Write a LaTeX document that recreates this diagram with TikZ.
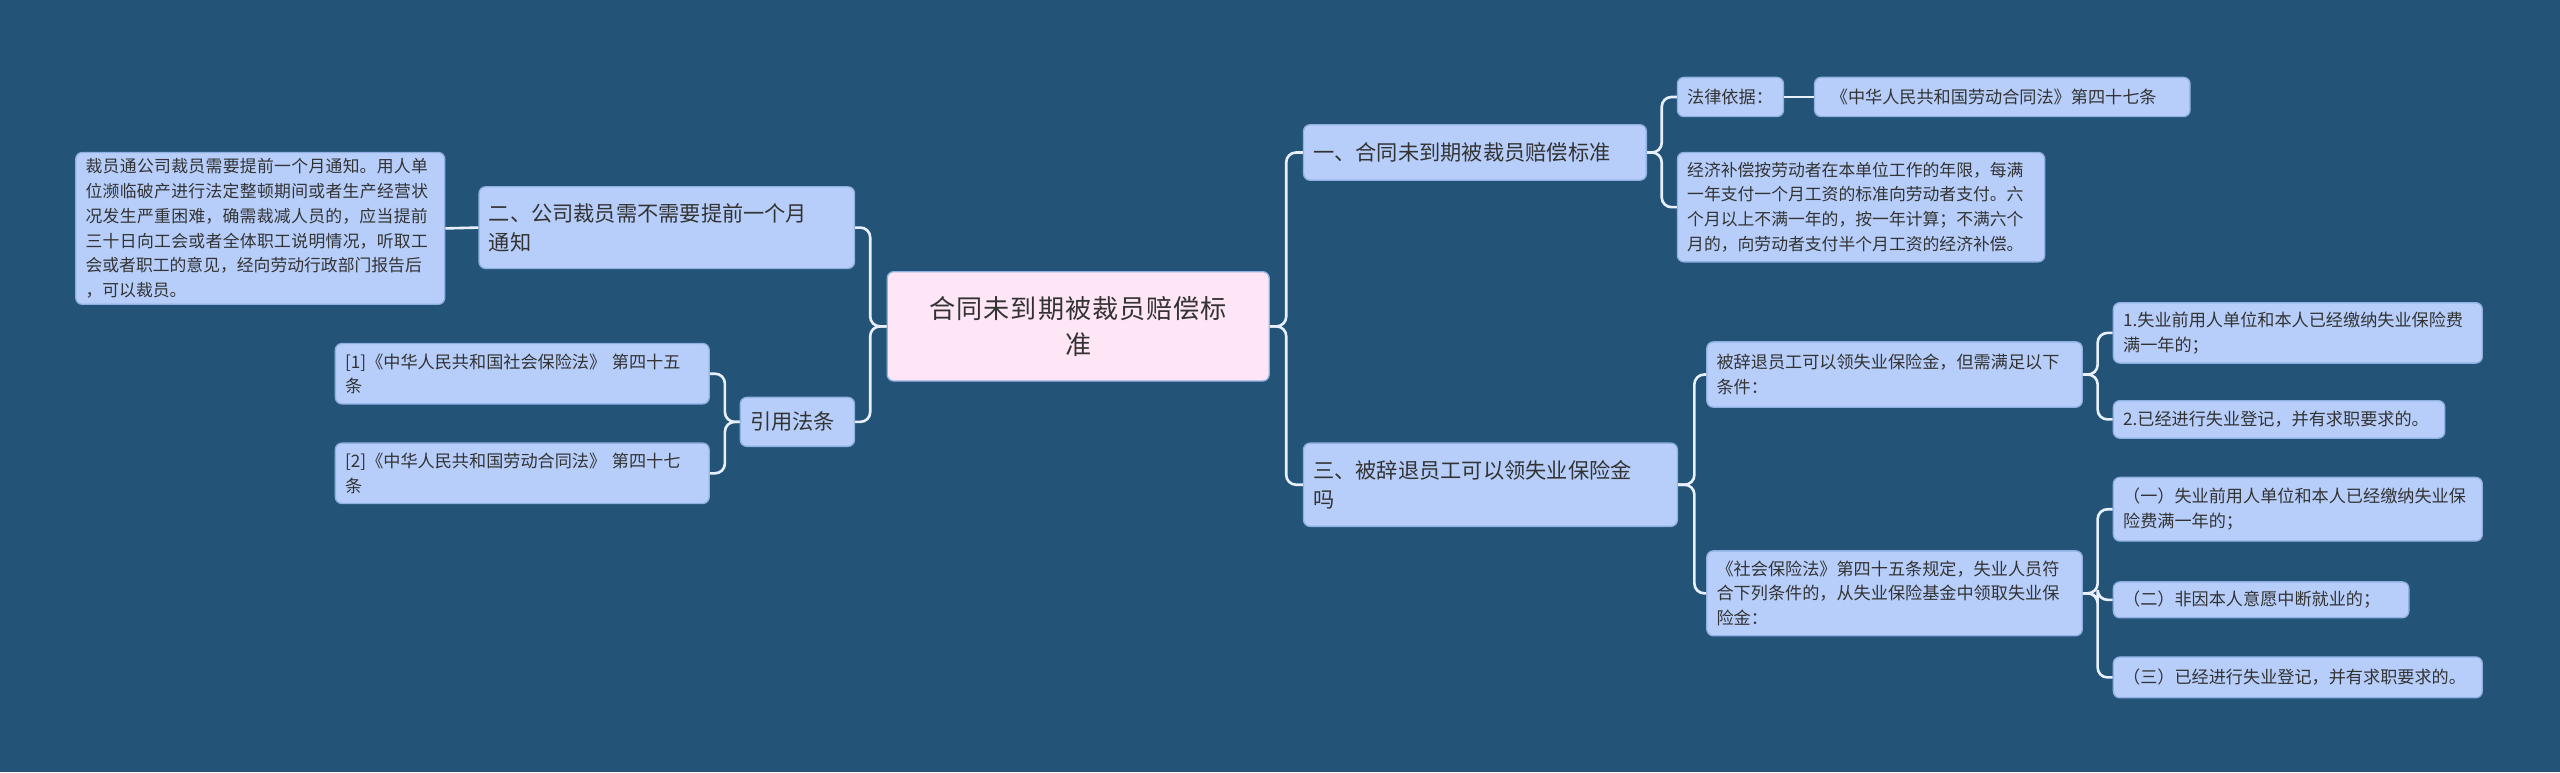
\documentclass[tikz,border=0pt]{standalone}
\usepackage{fontspec}
\setmainfont{Noto Sans CJK SC}
\XeTeXlinebreaklocale "zh"
\XeTeXlinebreakskip=0pt plus 1pt
\definecolor{bg}{HTML}{235478}
\definecolor{bx}{HTML}{B7CEFA}
\definecolor{bxl}{HTML}{8FB0E0}
\definecolor{ctr}{HTML}{FFE6F7}
\definecolor{ln}{HTML}{E8F0FF}
\tikzset{
 box/.style={draw=bxl,line width=0.8pt,fill=bx,rounded corners=4pt,anchor=north west,align=left,inner xsep=6pt,inner ysep=3pt,text=black!80},
 conn/.style={draw=ln,line width=1.6pt,rounded corners=6pt},
}
\newcommand{\bx}[8]{\node[box,#1,text width=#4pt-12pt,minimum height=#5pt,font=\fontsize{#6}{#7}\selectfont] (#2) at (#3) {#8};}
\begin{document}
\begin{tikzpicture}[x=1pt,y=-1pt]
\fill[bg] (0,0) rectangle (1568,473);
\useasboundingbox (0,0) rectangle (1568,473);
\node[box,fill=ctr,draw=bxl,text width=222pt,minimum height=67pt,align=center,font=\fontsize{16}{22}\selectfont] (c) at (543,166) {合同未到期被裁员赔偿标\\准};
\bx{}{n2}{293,114}{230}{50}{13}{18}{二、公司裁员需不需要提前一个月\\通知}
\bx{}{n2d}{46,93}{226}{93}{10.3}{15.2}{裁员通公司裁员需要提前一个月通知。用人单位濒临破产进行法定整顿期间或者生产经营状况发生严重困难，确需裁减人员的，应当提前三十日向工会或者全体职工说明情况，听取工会或者职工的意见，经向劳动行政部门报告后\\，可以裁员。}
\bx{}{ref}{453,243}{70}{30}{13}{18}{引用法条}
\bx{}{ref1}{205,210}{229}{37}{10.5}{15}{[1]《中华人民共和国社会保险法》 第四十五\\条}
\bx{}{ref2}{205,271}{229}{37}{10.5}{15}{[2]《中华人民共和国劳动合同法》 第四十七\\条}
\bx{}{r1}{798,76}{210}{34}{13}{18}{一、合同未到期被裁员赔偿标准}
\bx{}{law}{1027,47}{65}{24}{10.5}{15}{法律依据：}
\bx{}{lawt}{1111,47}{230}{24}{10.5}{15}{\hspace*{4pt}《中华人民共和国劳动合同法》第四十七条}
\bx{}{comp}{1027,93}{225}{67}{10.3}{15.2}{经济补偿按劳动者在本单位工作的年限，每满\\一年支付一个月工资的标准向劳动者支付。六\\个月以上不满一年的，按一年计算；不满六个\\月的，向劳动者支付半个月工资的经济补偿。}
\bx{}{r3}{798,271}{229}{51}{13}{18}{三、被辞退员工可以领失业保险金\\吗}
\bx{}{cond}{1045,209}{230}{40}{10.5}{15}{被辞退员工可以领失业保险金，但需满足以下\\条件：}
\bx{}{c1}{1294,185}{226}{37}{10.5}{15}{1.失业前用人单位和本人已经缴纳失业保险费\\满一年的；}
\bx{}{c2}{1294,245}{203}{23}{10.5}{15}{2.已经进行失业登记，并有求职要求的。}
\bx{}{soc}{1045,337}{230}{52}{10.5}{15}{《社会保险法》第四十五条规定，失业人员符\\合下列条件的，从失业保险基金中领取失业保\\险金：}
\bx{}{s1}{1294,292}{226}{39}{10.5}{15}{（一）失业前用人单位和本人已经缴纳失业保\\险费满一年的；}
\bx{}{s2}{1294,356}{181}{22}{10.5}{15}{（二）非因本人意愿中断就业的；}
\bx{}{s3}{1294,402}{226}{25}{10.5}{15}{（三）已经进行失业登记，并有求职要求的。}
% connectors
\foreach \t in {r1,r3} \draw[conn] (c.east) -- ++(10,0) |- (\t.west);
\foreach \t in {n2,ref} \draw[conn] (c.west) -- ++(-10,0) |- (\t.east);
\draw[conn] (n2.west) -- (n2d.east);
\foreach \t in {ref1,ref2} \draw[conn] (ref.west) -- ++(-9,0) |- (\t.east);
\foreach \t in {law,comp} \draw[conn] (r1.east) -- ++(9,0) |- (\t.west);
\draw[conn] (law.east) -- (lawt.west);
\foreach \t in {cond,soc} \draw[conn] (r3.east) -- ++(10,0) |- (\t.west);
\foreach \t in {c1,c2} \draw[conn] (cond.east) -- ++(9,0) |- (\t.west);
\foreach \t in {s1,s2,s3} \draw[conn] (soc.east) -- ++(9,0) |- (\t.west);
\end{tikzpicture}
\end{document}
